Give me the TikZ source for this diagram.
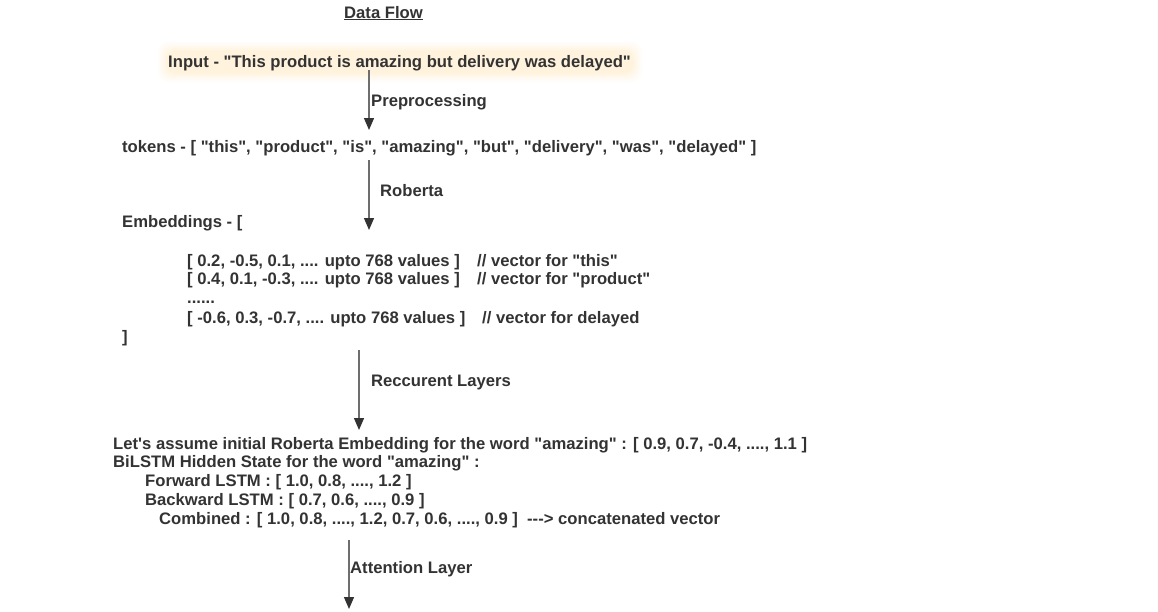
\documentclass[tikz,border=0pt]{standalone}
\usepackage{fontspec}
\setmainfont{Liberation Sans}[Ligatures=TeXOff]
\usetikzlibrary{arrows.meta}
\definecolor{txt}{HTML}{333333}
\definecolor{ln}{HTML}{6E6E6E}
\definecolor{glow}{HTML}{FFD97A}
\tikzset{
  x=1pt, y=-1pt,
  lbl/.style={anchor=base west, inner sep=0pt, text=txt, font=\fontsize{16.65}{19}\selectfont\bfseries},
  flow/.style={draw=ln, line width=1.3pt, -{Triangle[length=12pt,width=10pt,fill=txt,color=txt]}},
}
\begin{document}
\begin{tikzpicture}
\useasboundingbox[fill=white] (0,0) rectangle (1158,611);
% title
\node[lbl] (title) at (344,18) {\underline{Data Flow}};
% input glow
\foreach \d/\o in {10/0.035,8/0.045,6/0.055,4/0.065,2/0.075}{
  \fill[glow, opacity=\o, rounded corners=10pt] (168-\d,52-\d) rectangle (632+\d,72+\d);
}
\node[lbl] (input) at (168,67) {Input - "This product is amazing but delivery was delayed"};
\coordinate (a1s) at (369,70);
\coordinate (a1e) at (369,130);
\draw[flow] (a1s) -- (a1e);
\node[lbl] (pre) at (371,106) {Preprocessing};
\node[lbl] (tokens) at (122,152) {tokens - [ "this", "product", "is", "amazing", "but", "delivery", "was", "delayed" ]};
\coordinate (a2s) at (369,160);
\coordinate (a2e) at (369,230);
\draw[flow] (a2s) -- (a2e);
\node[lbl] (rob) at (380,196) {Roberta};
\node[lbl] (emb) at (122,227) {Embeddings - [};
\node[lbl] (v1) at (187,266) {[ 0.2, -0.5, 0.1, .... upto 768 values ]};
\node[lbl] (c1) at (477,266) {// vector for "this"};
\node[lbl] (v2) at (187,284) {[ 0.4, 0.1, -0.3, .... upto 768 values ]};
\node[lbl] (c2) at (477,284) {// vector for "product"};
\node[lbl] (dots) at (187,303) {......};
\node[lbl] (v3) at (187,323) {[ -0.6, 0.3, -0.7, .... upto 768 values ]};
\node[lbl] (c3) at (482,323) {// vector for delayed};
\node[lbl] (close) at (122,342) {]};
\coordinate (a3s) at (359,350);
\coordinate (a3e) at (359,430);
\draw[flow] (a3s) -- (a3e);
\node[lbl] (rec) at (371,386) {Reccurent Layers};
\node[lbl] (l1) at (113,449) {Let's assume initial Roberta Embedding for the word "amazing" : [ 0.9, 0.7, -0.4, ...., 1.1 ]};
\node[lbl] (l2) at (113,467) {BiLSTM Hidden State for the word "amazing" :};
\node[lbl] (l3) at (145,486) {Forward LSTM : [ 1.0, 0.8, ...., 1.2 ]};
\node[lbl] (l4) at (145,505) {Backward LSTM : [ 0.7, 0.6, ...., 0.9 ]};
\node[lbl] (l5) at (159,524) {Combined : [ 1.0, 0.8, ...., 1.2, 0.7, 0.6, ...., 0.9 ]\ \ ---> concatenated vector};
\coordinate (a4s) at (349,540);
\coordinate (a4e) at (349,609);
\draw[flow] (a4s) -- (a4e);
\node[lbl] (att) at (350,573) {Attention Layer};
\end{tikzpicture}
\end{document}
